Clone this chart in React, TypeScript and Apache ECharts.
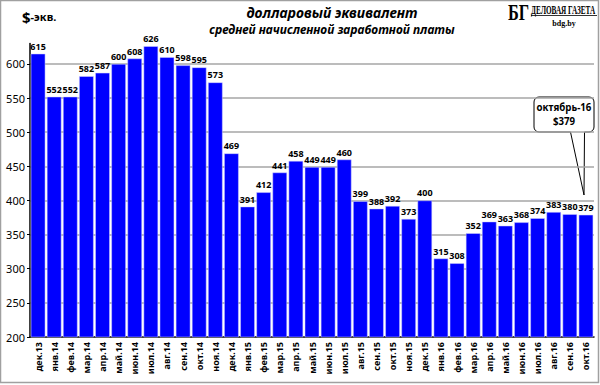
import React, { useEffect, useRef } from "react";
import * as echarts from "echarts";

const categories = [
  "дек.13", "янв.14", "фев.14", "мар.14", "апр.14", "май.14", "июн.14", "июл.14", "авг.14", "сен.14", "окт.14", "ноя.14",
  "дек.14", "янв.15", "фев.15", "мар.15", "апр.15", "май.15", "июн.15", "июл.15", "авг.15", "сен.15", "окт.15", "ноя.15",
  "дек.15", "янв.16", "фев.16", "мар.16", "апр.16", "май.16", "июн.16", "июл.16", "авг.16", "сен.16", "окт.16",
];
const values = [
  615, 552, 552, 582, 587, 600, 608, 626, 610, 598, 595, 573,
  469, 391, 412, 441, 458, 449, 449, 460, 399, 388, 392, 373,
  400, 315, 308, 352, 369, 363, 368, 374, 383, 380, 379,
];
const yMin = 200;
const yMax = 630;
const yInterval = 50;

export default function App() {
  const ref = useRef<HTMLDivElement>(null);
  useEffect(() => {
    document.body.style.margin = "0";
    if (!ref.current) return;
    const chart = echarts.init(ref.current, undefined, { renderer: "svg" });
    const font = "Noto Sans";
    chart.setOption({
      animation: false,
      backgroundColor: "#ffffff",
      grid: { left: 30, right: 6, top: 43.5, bottom: 48, containLabel: false },
      xAxis: {
        type: "category",
        data: categories,
        axisLine: { lineStyle: { color: "#000", width: 1.5 } },
        axisTick: { show: false },
        axisLabel: {
          rotate: 90,
          interval: 0,
          fontFamily: font,
          fontSize: 9,
          fontWeight: "bold",
          color: "#000",
          margin: 5,
        },
      },
      yAxis: {
        type: "value",
        min: yMin,
        max: yMax,
        interval: yInterval,
        axisLine: { show: true, lineStyle: { color: "#000", width: 1.5 } },
        axisTick: { show: true, length: 3, lineStyle: { color: "#000" } },
        axisLabel: {
          fontFamily: font,
          fontSize: 11,
          color: "#000",
          margin: 5,
          showMaxLabel: false,
        },
        splitLine: {
          show: true,
          showMaxLine: false,
          showMinLine: false,
          lineStyle: { color: "#a6a6a6", width: 1.5 },
        },
      },
      series: [
        {
          type: "bar",
          data: values,
          barCategoryGap: "10%",
          itemStyle: { color: "#0000ff", borderColor: "#d0d0ff", borderWidth: 0.5 },
          label: {
            show: true,
            position: "top",
            distance: 3,
            fontFamily: font,
            fontSize: 9,
            fontWeight: "bold",
            color: "#000",
          },
        },
      ],
      graphic: [
        {
          type: "rect",
          shape: { x: 0.5, y: 0.5, width: 598, height: 382 },
          style: { fill: "none", stroke: "#a0a0a0", lineWidth: 1.5 },
          silent: true,
        },
        {
          type: "text",
          x: 22,
          y: 9,
          style: {
            text: "{a|$}{b|-экв.}",
            rich: {
              a: { fontFamily: font, fontSize: 15, fontWeight: "bold", fill: "#000" },
              b: { fontFamily: font, fontSize: 11, fontWeight: "bold", fill: "#000" },
            },
          },
        },
        {
          type: "text",
          x: 332,
          y: 5,
          style: {
            text: "долларовый эквивалент",
            fontFamily: font,
            fontSize: 14,
            fontWeight: "bold",
            fontStyle: "italic",
            fill: "#000",
            align: "center",
          },
        },
        {
          type: "text",
          x: 332,
          y: 23,
          style: {
            text: "средней начисленной заработной платы",
            fontFamily: font,
            fontSize: 12,
            fontWeight: "bold",
            fontStyle: "italic",
            fill: "#000",
            align: "center",
          },
        },
        {
          type: "text",
          x: 508,
          y: 0,
          scaleX: 0.68,
          style: {
            text: "БГ",
            fontFamily: "Liberation Serif",
            fontSize: 24,
            fontWeight: "bold",
            fill: "#000",
          },
        },
        {
          type: "text",
          x: 531,
          y: 4,
          scaleX: 0.6,
          style: {
            text: "ДЕЛОВАЯ ГАЗЕТА",
            fontFamily: "Liberation Serif",
            fontSize: 12,
            fontWeight: "bold",
            fill: "#000",
          },
        },
        {
          type: "line",
          shape: { x1: 531, y1: 15.5, x2: 597, y2: 15.5 },
          style: { stroke: "#000", lineWidth: 0.8 },
        },
        {
          type: "text",
          x: 564,
          y: 19,
          style: {
            text: "bdg.by",
            fontFamily: "Liberation Serif",
            fontSize: 8,
            fontWeight: "bold",
            fill: "#000",
            align: "center",
          },
        },
        {
          type: "rect",
          shape: { x: 534, y: 97, width: 60, height: 35, r: 5 },
          style: { fill: "#fff", stroke: "#000", lineWidth: 1 },
        },
        {
          type: "polygon",
          shape: { points: [[570.5, 131], [584.5, 131], [584, 195]] },
          style: { fill: "#fff", stroke: "none" },
        },
        {
          type: "polyline",
          shape: { points: [[570.5, 132], [584, 195], [584.5, 132]] },
          style: { stroke: "#000", lineWidth: 1, fill: "none" },
        },
        {
          type: "text",
          x: 564,
          y: 100,
          scaleX: 0.88,
          style: {
            text: "октябрь-16\n$379",
            fontFamily: font,
            fontSize: 11,
            fontWeight: "bold",
            fill: "#000",
            align: "center",
            lineHeight: 14,
          },
        },
      ],
    });
    return () => chart.dispose();
  }, []);
  return <div ref={ref} style={{ width: 600, height: 385 }} />;
}
